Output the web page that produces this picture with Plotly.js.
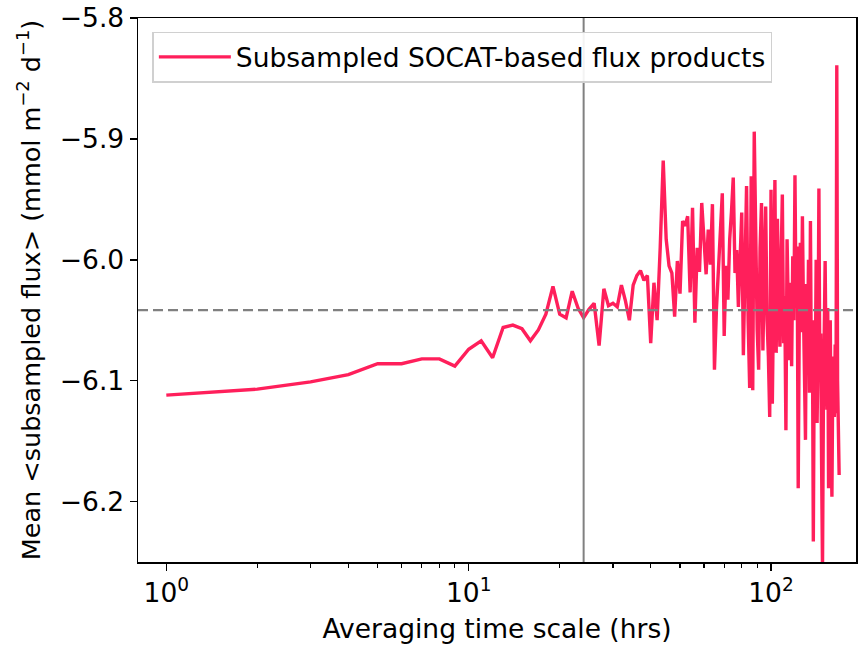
<!DOCTYPE html>
<html><head><meta charset="utf-8">
<script src="https://cdn.plot.ly/plotly-3.0.1.min.js"></script>
<style>body{margin:0;background:#fff;}</style>
</head><body><div id="chart" style="width:862px;height:646px;"></div>
<script>
// Averaging time scale (hrs)
const hours = [
  1,2,3,4,5,6,7,8,9,10,11,12,13,14,15,16,17,18,19,20,
  21,22,23,24,25,26,27,28,29,30,31,32,33,34,35,36,37,38,39,40,
  41,42,43,44,45,46,47,48,49,50,51,52,53,54,55,56,57,58,59,60,
  61,62,63,64,65,66,67,68,69,70,71,72,73,74,75,76,77,78,79,80,
  81,82,83,84,85,86,87,88,89,90,91,92,93,94,95,96,97,98,99,100,
  101,102,103,104,105,106,107,108,109,110,111,112,113,114,115,116,117,118,119,120,
  121,122,123,124,125,126,127,128,129,130,131,132,133,134,135,136,137,138,139,140,
  141,142,143,144,145,146,147,148,149,150,151,152,153,154,155,156,157,158,159,160,
  161,162,163,164,165,166,167,168
];
// Mean <subsampled flux> (mmol m-2 d-1)
const meanFlux = [
  -6.112,-6.107,-6.101,-6.095,-6.086,-6.086,-6.082,-6.082,-6.088,-6.074,
  -6.067,-6.081,-6.056,-6.054,-6.057,-6.067,-6.058,-6.045,-6.022,-6.045,
  -6.048,-6.026,-6.040,-6.048,-6.041,-6.036,-6.071,-6.024,-6.038,-6.036,
  -6.039,-6.021,-6.034,-6.050,-6.021,-6.013,-6.009,-6.017,-6.013,-6.069,
  -6.019,-6.050,-5.990,-5.918,-5.983,-6.005,-6.011,-6.047,-6.001,-6.028,
  -5.968,-5.972,-5.964,-6.027,-5.957,-6.052,-5.990,-6.010,-5.953,-5.989,
  -6.012,-5.975,-6.004,-5.954,-6.091,-6.040,-6.011,-5.980,-5.945,-6.063,
  -6.005,-6.033,-5.983,-5.960,-5.932,-6.011,-5.992,-6.039,-5.990,-5.961,
  -6.079,-6.010,-5.939,-6.050,-6.106,-5.931,-6.108,-5.894,-6.000,-6.058,
  -6.091,-5.990,-5.953,-6.075,-6.010,-5.956,-6.050,-6.080,-6.130,-5.942,
  -6.119,-6.000,-5.934,-6.077,-5.966,-6.030,-6.072,-6.000,-5.946,-6.069,
  -6.030,-6.141,-5.983,-6.040,-6.083,-6.019,-6.088,-5.997,-6.050,-5.930,
  -6.040,-5.989,-6.189,-6.050,-5.986,-6.060,-5.964,-6.040,-6.087,-6.149,
  -6.020,-6.085,-6.000,-6.110,-5.968,-6.108,-6.050,-6.233,-6.074,-6.110,
  -6.000,-6.135,-6.080,-5.941,-6.100,-6.061,-6.170,-6.255,-6.119,-6.060,
  -6.001,-6.080,-6.124,-6.040,-6.189,-6.080,-6.050,-6.150,-6.196,-6.100,
  -6.080,-6.130,-6.070,-6.127,-5.839,-6.100,-6.160,-6.178
];
const seriesName = "Subsampled SOCAT-based flux products";
const refHour = 24;          // vertical reference line
const refFlux = -6.0417;     // horizontal dashed reference line
const xTickVals = [1, 10, 100];
const xTickText = ["10<sup>0</sup>", "10<sup>1</sup>", "10<sup>2</sup>"];
const xMinorVals = [2,3,4,5,6,7,8,9,20,30,40,50,60,70,80,90,200];
const yTickVals = [-6.2, -6.1, -6.0, -5.9, -5.8];

const font = "DejaVu Sans, Liberation Sans, sans-serif";
const fs = 26.5;
const trace = {
  x: hours, y: meanFlux, type: "scatter", mode: "lines", name: seriesName,
  line: {color: "#ff1f5b", width: 3.4}
};
const layout = {
  width: 862, height: 646,
  margin: {l: 138, r: 6, t: 18, b: 84},
  paper_bgcolor: "#fff", plot_bgcolor: "#fff",
  font: {family: font, size: fs, color: "#000"},
  showlegend: true,
  legend: {
    x: 0.02, y: 0.975, xanchor: "left", yanchor: "top",
    bgcolor: "rgba(255,255,255,0.9)", bordercolor: "#d0d0d0", borderwidth: 1.5,
    font: {family: font, size: fs, color: "#000"}, tracegroupgap: 0,
    itemwidth: 72
  },
  xaxis: {
    type: "log", range: [Math.log10(0.806), Math.log10(191)],
    tickmode: "array", tickvals: xTickVals, ticktext: xTickText,
    ticks: "outside", ticklen: 7, tickwidth: 1.5, tickcolor: "#000",
    minor: {tickmode: "array", tickvals: xMinorVals, ticks: "outside", ticklen: 4, tickwidth: 1.2, tickcolor: "#000", showgrid: false},
    showline: true, linecolor: "#000", linewidth: 1.5, mirror: true,
    showgrid: false, zeroline: false,
    tickfont: {family: font, size: fs, color: "#000"},
    title: {text: "Averaging time scale (hrs)", font: {family: font, size: fs, color: "#000"}, standoff: 12}
  },
  yaxis: {
    range: [-6.25, -5.8],
    tickmode: "array", tickvals: yTickVals, tickformat: ".1f",
    ticks: "outside", ticklen: 7, tickwidth: 1.5, tickcolor: "#000",
    showline: true, linecolor: "#000", linewidth: 1.5, mirror: true,
    showgrid: false, zeroline: false,
    tickfont: {family: font, size: fs, color: "#000"},
    title: {text: "Mean &lt;subsampled flux&gt; (mmol m<sup>\u22122</sup> d<sup>\u22121</sup>)", font: {family: font, size: 25.5, color: "#000"}, standoff: 12}
  },
  shapes: [
    {type: "line", xref: "x", yref: "paper", x0: refHour, x1: refHour, y0: 0, y1: 1,
     line: {color: "#808080", width: 2}, layer: "above"},
    {type: "line", xref: "paper", yref: "y", x0: 0, x1: 1, y0: refFlux, y1: refFlux,
     line: {color: "#808080", width: 2.2, dash: "10px,5px"}, layer: "above"}
  ]
};
Plotly.newPlot("chart", [trace], layout, {staticPlot: true, displayModeBar: false});
</script>
</body></html>
